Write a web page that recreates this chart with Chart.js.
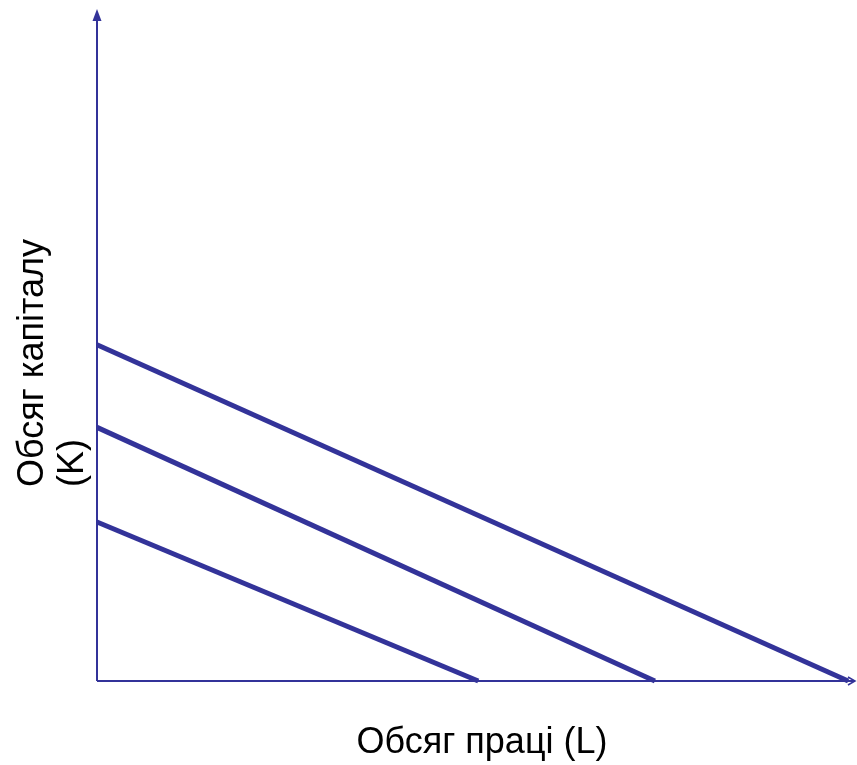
<!DOCTYPE html>
<html lang="uk">
<head>
    <meta charset="UTF-8">
    <title>Ізокости</title>
    <style>
        body { margin: 0; background: #fff; }
        #wrap { width: 857px; height: 765px; }
    </style>
</head>
<body>
    <div id="wrap">
        <canvas id="myChart" width="857" height="765"></canvas>
    </div>

<script src="https://cdn.jsdelivr.net/npm/chart.js"></script>
<script>
    // значення (умовні одиниці)
    const labourMax = 10;
    const capitalMax = 10;
    const capitalAtZero = [5.01, 3.78, 2.37];   // точки перетину з віссю K
    const labourAtZero = [9.91, 7.36, 5.03];    // точки перетину з віссю L
    const xTitle = 'Обсяг праці (L)';
    const yTitle = ['Обсяг капіталу', '(K)'];

    const colorMain = '#333399';

    const datasets = capitalAtZero.map((k, i) => ({
        label: 'Ізокоста ' + (i + 1),
        data: [{ x: 0, y: k }, { x: labourAtZero[i], y: 0 }],
        borderColor: colorMain,
        borderWidth: 5,
        pointRadius: 0,
        fill: false,
        clip: false
    }));

    // осі зі стрілками та підписи
    const axesPlugin = {
        id: 'axesPlugin',
        beforeDatasetsDraw(chart) {
            const c = chart.ctx;
            const x0 = chart.scales.x.getPixelForValue(0);
            const y0 = chart.scales.y.getPixelForValue(0);
            const xEnd = chart.scales.x.getPixelForValue(labourMax);
            const yEnd = chart.scales.y.getPixelForValue(capitalMax);

            c.save();
            c.strokeStyle = colorMain;
            c.fillStyle = colorMain;
            c.lineWidth = 2;

            c.beginPath();
            c.moveTo(x0, y0);
            c.lineTo(x0, yEnd + 3);
            c.moveTo(x0, y0);
            c.lineTo(xEnd - 1, y0);
            c.stroke();

            // стрілка вгору
            c.beginPath();
            c.moveTo(x0, yEnd - 1);
            c.lineTo(x0 - 4.5, yEnd + 11);
            c.lineTo(x0 + 4.5, yEnd + 11);
            c.closePath();
            c.fill();

            // стрілка праворуч
            c.lineWidth = 1.5;
            c.beginPath();
            c.moveTo(xEnd - 7, y0 - 4);
            c.lineTo(xEnd, y0);
            c.lineTo(xEnd - 7, y0 + 4);
            c.stroke();
            c.restore();
        },
        afterDraw(chart) {
            const c = chart.ctx;
            c.save();
            c.fillStyle = '#000';
            c.font = '36px "Liberation Sans", Arial, sans-serif';
            c.textBaseline = 'alphabetic';

            c.textAlign = 'center';
            c.fillText(xTitle, 482, 753);

            c.textAlign = 'left';
            const baseX = [43, 83];
            yTitle.forEach((t, i) => {
                c.save();
                c.translate(baseX[i], 487);
                c.rotate(-Math.PI / 2);
                c.fillText(t, 0, 0);
                c.restore();
            });
            c.restore();
        }
    };

    const ctx = document.getElementById('myChart').getContext('2d');
    const myChart = new Chart(ctx, {
        type: 'line',
        data: { datasets: datasets },
        options: {
            responsive: false,
            animation: false,
            layout: { padding: { left: 97, top: 10, right: 2, bottom: 84 } },
            plugins: {
                legend: { display: false },
                tooltip: { enabled: false }
            },
            scales: {
                x: { type: 'linear', min: 0, max: labourMax, display: false },
                y: { type: 'linear', min: 0, max: capitalMax, display: false }
            }
        },
        plugins: [axesPlugin]
    });
</script>
</body>
</html>
